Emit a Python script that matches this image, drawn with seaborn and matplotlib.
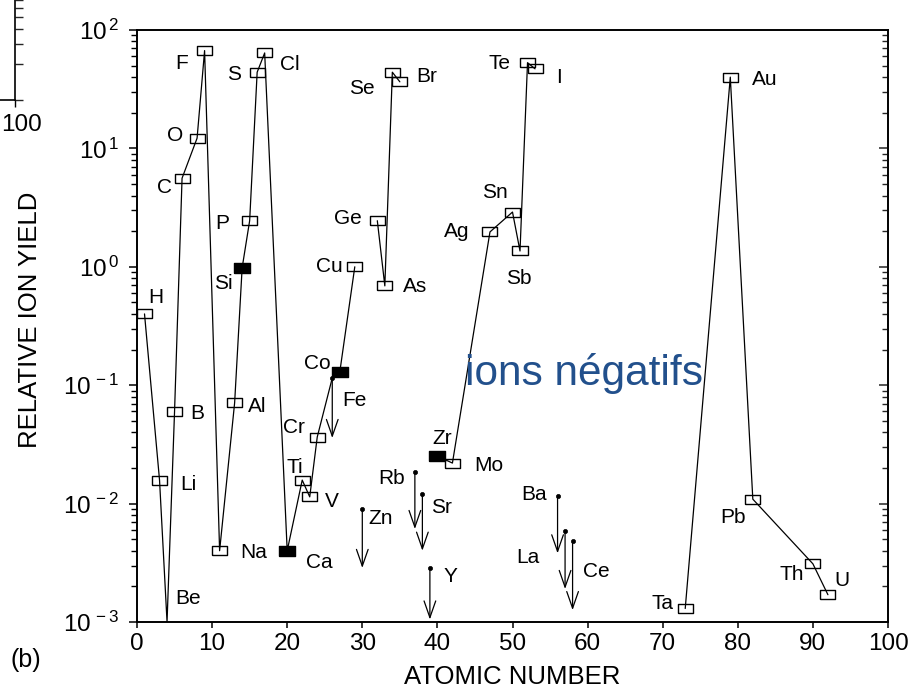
import numpy as np
import pandas as pd
import matplotlib
matplotlib.use("Agg")
import matplotlib.pyplot as plt
import seaborn as sns
from matplotlib.ticker import LogLocator, FixedLocator, FuncFormatter, NullFormatter

# ---------------- data ----------------
measured_symbols = ['H', 'Li', 'Be', 'B', 'C', 'O', 'F', 'Na', 'Al', 'Si', 'P', 'S', 'Cl',
                    'Ca', 'Ti', 'V', 'Cr', 'Co', 'Cu', 'Ge', 'As', 'Se', 'Br',
                    'Zr', 'Mo', 'Ag', 'Sn', 'Sb', 'Te', 'I', 'Ta', 'Au', 'Pb', 'Th', 'U']
measured_z = [1, 3, 4, 5, 6, 8, 9, 11, 13, 14, 15, 16, 17,
              20, 22, 23, 24, 27, 29, 32, 33, 34, 35,
              40, 42, 47, 50, 51, 52, 53, 73, 79, 82, 90, 92]
measured_yield = [0.40, 0.0158, 0.001, 0.060, 5.6, 12.2, 67, 0.0040, 0.071, 0.98, 2.45, 44, 64,
                  0.0040, 0.0158, 0.0114, 0.0365, 0.129, 1.0, 2.45, 0.69, 44, 36.5,
                  0.0252, 0.022, 1.97, 2.9, 1.36, 53, 47, 0.0013, 40, 0.0109, 0.0031, 0.0017]
filled_symbols = ['Si', 'Ca', 'Co', 'Zr']
unmarked_symbols = ['Be']

limit_symbols = ['Fe', 'Zn', 'Rb', 'Sr', 'Y', 'Ba', 'La', 'Ce']
limit_z = [26, 30, 37, 38, 39, 56, 57, 58]
limit_yield = [0.115, 0.0090, 0.0185, 0.0120, 0.00286, 0.0116, 0.0059, 0.0048]
limit_arrow_end = [0.0358, 0.00286, 0.0061, 0.0040, 0.00105, 0.0038, 0.0019, 0.00126]

chains = [
    ['H', 'Li', 'Be', 'B', 'C', 'O', 'F', 'Na', 'Al', 'Si', 'P', 'S', 'Cl',
     'Ca', 'Ti', 'V', 'Cr', 'Fe', 'Co', 'Cu'],
    ['Ge', 'As', 'Se', 'Br'],
    ['Zr', 'Mo', 'Ag', 'Sn', 'Sb', 'Te', 'I'],
    ['Ta', 'Au', 'Pb', 'Th', 'U'],
]

x_ticks = [0, 10, 20, 30, 40, 50, 60, 70, 80, 90, 100]
y_exponents = [-3, -2, -1, 0, 1, 2]

# label offsets (points) relative to each point
label_offsets = {
    'H': (8, 12), 'Li': (21, -3.5), 'Be': (15, 17), 'B': (16, -1.5), 'C': (-13, -6.5),
    'O': (-16, 2), 'F': (-16.5, -9.5), 'Na': (24.5, -1.5), 'Al': (16, -3), 'Si': (-13.7, -11.5),
    'P': (-19.5, -2), 'S': (-16.5, -2), 'Cl': (18, -8.5), 'Ca': (23, -8.6), 'Ti': (-5, 9.4),
    'V': (16, -3), 'Cr': (-16.5, 6.5), 'Co': (-16.5, 6.5), 'Cu': (-18, 0), 'Ge': (-21, 1.5),
    'As': (22, -0.7), 'Se': (-22, -11.5), 'Br': (19, 3.6), 'Zr': (3.6, 13), 'Mo': (26, -1.5),
    'Ag': (-24, 0), 'Sn': (-13, 14.4), 'Sb': (-0.7, -20), 'Te': (-20, -0.7), 'I': (17, -6),
    'Ta': (-16.5, 3.6), 'Au': (24.5, -2), 'Pb': (-14.4, -13), 'Th': (-15, -8), 'U': (10, 10),
    'Fe': (16, -16), 'Zn': (13, -6.5), 'Rb': (-16.5, -5), 'Sr': (13.7, -9.4), 'Y': (15, -6.5),
    'Ba': (-17, 0.7), 'La': (-26.6, -19.4), 'Ce': (17, -21.6),
}

# ---------------- tables ----------------
meas = pd.DataFrame({'sym': measured_symbols, 'Z': measured_z, 'yield': measured_yield})
lim = pd.DataFrame({'sym': limit_symbols, 'Z': limit_z, 'yield': limit_yield,
                    'end': limit_arrow_end})
allpts = pd.concat([meas, lim[['sym', 'Z', 'yield']]], ignore_index=True).set_index('sym')

line_rows = []
for ci, ch in enumerate(chains):
    for s in ch:
        line_rows.append({'chain': ci, 'Z': allpts.loc[s, 'Z'], 'yield': allpts.loc[s, 'yield']})
lines_df = pd.DataFrame(line_rows)

open_df = meas[~meas['sym'].isin(filled_symbols + unmarked_symbols)]
fill_df = meas[meas['sym'].isin(filled_symbols)]

# ---------------- style ----------------
sns.set_theme(style="ticks")
plt.rcParams['font.family'] = ['Liberation Sans', 'DejaVu Sans']
plt.rcParams['mathtext.fontset'] = 'custom'
plt.rcParams['mathtext.rm'] = 'Liberation Sans'
plt.rcParams['mathtext.it'] = 'Liberation Sans:italic'
plt.rcParams['mathtext.bf'] = 'Liberation Sans:bold'

fig = plt.figure(figsize=(9.19, 6.91), dpi=100)
fig.patch.set_facecolor('white')
ax = fig.add_axes([137 / 919, 1 - 622 / 691, (888 - 137) / 919, (622 - 30) / 691])
ax.set_yscale('log')
ax.set_xlim(0, 100)
ax.set_ylim(1e-3, 1e2)

rect = [(-1, -0.6), (1, -0.6), (1, 0.6), (-1, 0.6), (-1, -0.6)]

sns.lineplot(data=lines_df, x='Z', y='yield', units='chain', estimator=None, sort=False,
             color='black', linewidth=0.9, ax=ax, legend=False, zorder=2)
sns.scatterplot(data=open_df, x='Z', y='yield', marker=rect, s=117, color='black',
                facecolor='none', edgecolor='black', linewidth=1.0, ax=ax, zorder=3,
                legend=False)
sns.scatterplot(data=fill_df, x='Z', y='yield', marker=rect, s=117, color='black',
                facecolor='black', edgecolor='black', linewidth=1.0, ax=ax, zorder=3,
                legend=False)
sns.scatterplot(data=lim, x='Z', y='yield', marker='o', s=9, color='black',
                edgecolor='black', linewidth=0.5, ax=ax, zorder=3, legend=False)

for _, r in lim.iterrows():
    ax.annotate('', xy=(r['Z'], r['end']), xytext=(r['Z'], r['yield']),
                arrowprops=dict(arrowstyle='->,head_length=1.2,head_width=0.42',
                                color='black', lw=0.9, shrinkA=0, shrinkB=0,
                                mutation_scale=10))

for s, (dx, dy) in label_offsets.items():
    ax.annotate(s, (allpts.loc[s, 'Z'], allpts.loc[s, 'yield']), xytext=(dx, dy),
                textcoords='offset points', ha='center', va='center', fontsize=15,
                color='black', annotation_clip=False)

# axes styling
for sp in ax.spines.values():
    sp.set_visible(True)
    sp.set_linewidth(1.2)
    sp.set_color('black')

ax.xaxis.set_major_locator(FixedLocator(x_ticks))
ax.set_xticklabels([str(v) for v in x_ticks])
ax.yaxis.set_major_locator(FixedLocator([10.0 ** e for e in y_exponents]))
ax.yaxis.set_major_formatter(FuncFormatter(lambda v, p: r'$\mathregular{10^{\,%d}}$' % round(np.log10(v))))
ax.yaxis.set_minor_locator(LogLocator(base=10, subs=np.arange(2, 10), numticks=20))
ax.yaxis.set_minor_formatter(NullFormatter())
ax.tick_params(axis='x', which='major', direction='out', length=4, width=1.1,
               labelsize=17.5, pad=4, top=False, bottom=True, colors='black')
ax.tick_params(axis='y', which='major', direction='out', length=6, width=1.1,
               labelsize=17.5, pad=7, left=True, right=False, colors='black')
ax.tick_params(axis='y', which='minor', direction='out', length=4, width=1.0,
               left=True, right=False, colors='black')

ax.set_xlabel('ATOMIC NUMBER', fontsize=18.5, color='black')
ax.set_ylabel('RELATIVE ION YIELD', fontsize=18.5, color='black')
ax.xaxis.set_label_coords(0.5, -0.072)
ax.yaxis.set_label_coords(-0.1265, 0.51)

# right-hand inward ticks
ax2 = ax.twinx()
ax2.set_yscale('log')
ax2.set_ylim(1e-3, 1e2)
ax2.yaxis.set_major_locator(FixedLocator([10.0 ** e for e in y_exponents]))
ax2.yaxis.set_minor_locator(LogLocator(base=10, subs=np.arange(2, 10), numticks=20))
ax2.yaxis.set_major_formatter(NullFormatter())
ax2.yaxis.set_minor_formatter(NullFormatter())
ax2.tick_params(axis='y', which='major', direction='in', length=6.5, width=1.1, right=True,
                labelright=False)
ax2.tick_params(axis='y', which='minor', direction='in', length=4.5, width=1.0, right=True,
                labelright=False)
for sp in ax2.spines.values():
    sp.set_linewidth(1.2)
    sp.set_color('black')

# fragment of neighbouring panel (a)
axa = fig.add_axes([15 / 919 - 0.3, 1 - 100 / 691, 0.3, 355 / 691])
axa.set_yscale('log')
axa.set_ylim(1e-3, 1e0)
axa.set_xlim(0, 100)
axa.patch.set_alpha(0)
for k in ['left', 'top']:
    axa.spines[k].set_visible(False)
for k in ['right', 'bottom']:
    axa.spines[k].set_linewidth(1.2)
    axa.spines[k].set_color('black')
axa.yaxis.tick_right()
axa.yaxis.set_minor_locator(LogLocator(base=10, subs=np.arange(2, 10), numticks=20))
axa.yaxis.set_major_formatter(NullFormatter())
axa.yaxis.set_minor_formatter(NullFormatter())
axa.tick_params(axis='y', which='both', direction='out', length=5.5, width=1.0,
                right=True, left=False, labelright=False)
axa.xaxis.set_major_locator(FixedLocator([100]))
axa.xaxis.set_major_formatter(NullFormatter())
axa.tick_params(axis='x', direction='out', length=5, width=1.0, colors='black')
fig.text(1 / 919, 1 - 125 / 691, '100', color='black', fontsize=17.5, ha='left', va='center')

fig.text(584 / 919, 1 - 385 / 691, 'ions négatifs', color='#22508c', fontsize=30.5,
         ha='center', va='baseline')
fig.text(10 / 919, 1 - 660 / 691, '(b)', color='black', fontsize=18, ha='left', va='center')

fig.savefig('out.png', dpi=100, facecolor='white')
